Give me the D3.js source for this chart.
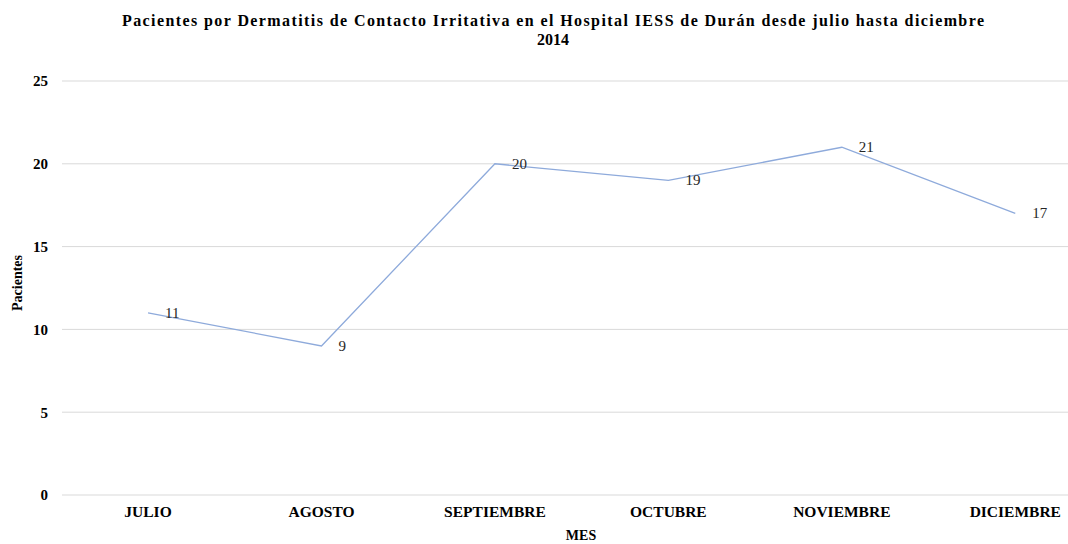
<!DOCTYPE html>
<html>
<head>
<meta charset="utf-8">
<script src="https://cdn.jsdelivr.net/npm/d3@7"></script>
<style>
  body { margin: 0; background: #fff; }
  svg { display: block; font-family: "Liberation Serif", "Times New Roman", serif; }
</style>
</head>
<body>
<svg width="1068" height="544"></svg>
<script>
const svg = d3.select("svg");
const width = +svg.attr("width");
const height = +svg.attr("height");

// datos
const meses = ["JULIO", "AGOSTO", "SEPTIEMBRE", "OCTUBRE", "NOVIEMBRE", "DICIEMBRE"];
const pacientes = [11, 9, 20, 19, 21, 17];
const yTicks = [0, 5, 10, 15, 20, 25];

// escalas
const x = d3.scaleBand()
  .domain(meses)
  .range([61.3, 1102]);

const y = d3.scaleLinear()
  .domain([0, 25])
  .range([495, 81]);

// título
const title = svg.append("text")
  .attr("text-anchor", "middle")
  .attr("font-family", "Liberation Serif")
  .attr("font-weight", "bold")
  .attr("font-size", 16);
title.append("tspan").attr("x", 553).attr("y", 26)
  .attr("textLength", 862)
  .attr("lengthAdjust", "spacing")
  .text("Pacientes por Dermatitis de Contacto Irritativa  en el Hospital IESS de Durán desde julio hasta diciembre");
title.append("tspan").attr("x", 553).attr("y", 45).text("2014");

// líneas de cuadrícula
svg.append("g")
  .selectAll("line")
  .data(yTicks)
  .join("line")
  .attr("x1", 62)
  .attr("x2", width)
  .attr("y1", d => y(d))
  .attr("y2", d => y(d))
  .attr("stroke", "#d9d9d9")
  .attr("stroke-width", 1);

// eje y
const yAxis = svg.append("g")
  .attr("transform", "translate(48,0)")
  .call(d3.axisLeft(y).tickValues(yTicks).tickSize(0).tickPadding(0));
yAxis.select(".domain").remove();
yAxis.selectAll("text")
  .attr("font-family", "Liberation Serif")
  .attr("font-size", 15)
  .attr("font-weight", "bold")
  .attr("fill", "#000");

// eje x
const xAxis = svg.append("g")
  .attr("transform", "translate(0,495)")
  .call(d3.axisBottom(x).tickSize(0).tickPadding(11));
xAxis.select(".domain").remove();
xAxis.selectAll("text")
  .attr("font-family", "Liberation Serif")
  .attr("font-size", 15.5)
  .attr("font-weight", "bold")
  .attr("fill", "#000");

// títulos de ejes
svg.append("text")
  .attr("x", 581)
  .attr("y", 540)
  .attr("text-anchor", "middle")
  .attr("font-weight", "bold")
  .attr("font-size", 14)
  .text("MES");

svg.append("text")
  .attr("transform", "translate(22,283) rotate(-90)")
  .attr("text-anchor", "middle")
  .attr("font-weight", "bold")
  .attr("font-size", 14)
  .text("Pacientes");

// línea
const line = d3.line()
  .x((d, i) => x(meses[i]) + x.bandwidth() / 2)
  .y(d => y(d));

svg.append("path")
  .datum(pacientes)
  .attr("fill", "none")
  .attr("stroke", "#8eaadb")
  .attr("stroke-width", 1.3)
  .attr("d", line);

// etiquetas de datos
svg.append("g")
  .selectAll("text")
  .data(pacientes)
  .join("text")
  .attr("x", (d, i) => x(meses[i]) + x.bandwidth() / 2 + 17)
  .attr("y", d => y(d) + 5)
  .attr("font-size", 15)
  .attr("fill", "#262626")
  .text(d => d);
</script>
</body>
</html>
